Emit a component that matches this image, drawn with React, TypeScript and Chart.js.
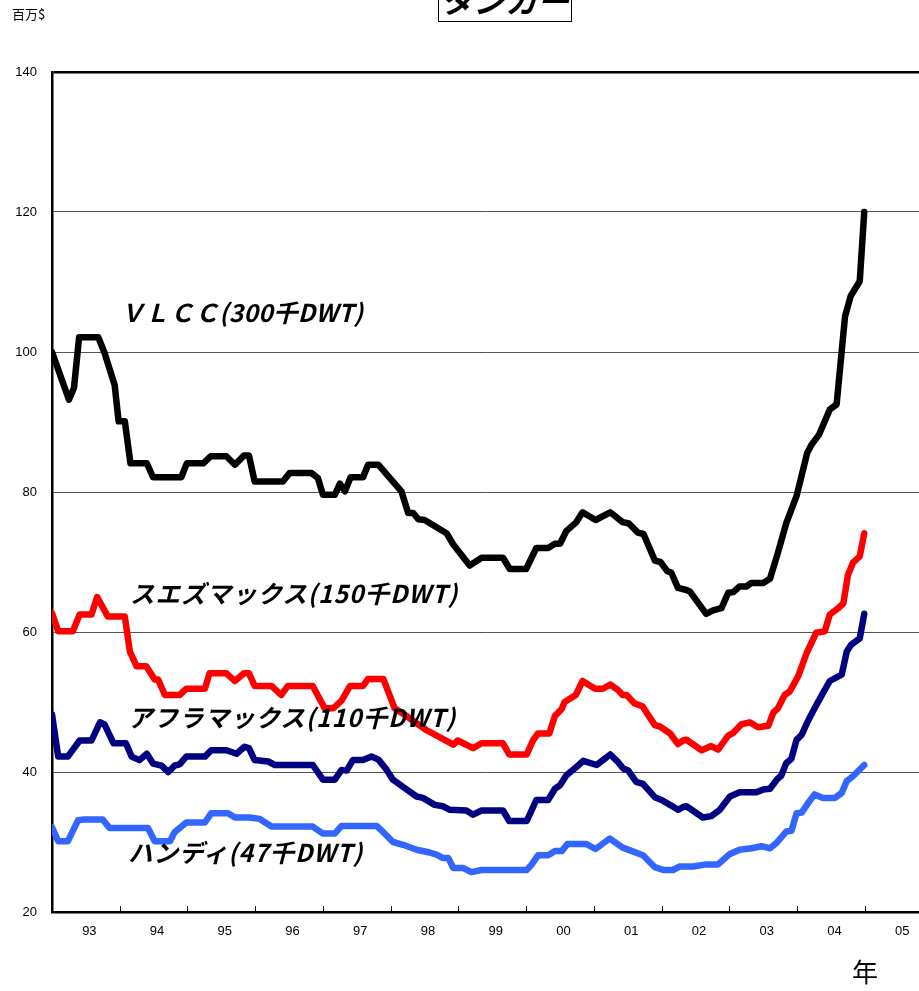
import React, { useEffect, useRef } from "react";
import { Chart, registerables } from "chart.js";

Chart.register(...registerables);

// x values are months counted from Jan 1993 (0 = 1993/01)
const yearLabels = ["93", "94", "95", "96", "97", "98", "99", "00", "01", "02", "03", "04", "05"];
const yTicks = [20, 40, 60, 80, 100, 120, 140];

const vlccMonth = [0, 3.0, 3.9, 4.8, 8.2, 9.3, 11.1, 11.8, 12.9, 13.9, 16.8, 17.9, 22.9, 23.9, 26.8, 28.1, 30.9, 32.4, 34.0, 34.9, 35.9, 40.9, 42.1, 46.0, 47.1, 48.0, 50.1, 51.0, 51.9, 52.9, 55.1, 56.0, 57.8, 61.9, 63.1, 64.0, 64.9, 66.0, 69.9, 71.1, 74.0, 76.1, 79.9, 81.1, 84.0, 85.8, 87.9, 89.1, 90.0, 91.1, 92.9, 94.0, 96.3, 98.9, 101.1, 102.2, 103.8, 104.8, 106.8, 107.8, 109.0, 109.7, 110.9, 112.4, 113.0, 115.9, 117.1, 118.6, 119.8, 120.7, 121.8, 123.0, 123.9, 126.0, 127.2, 128.6, 130.1, 131.9, 133.8, 134.6, 135.9, 137.8, 139.0, 140.5, 141.5, 143.1, 143.9];
const vlccValue = [100, 93.2, 94.9, 102.1, 102.1, 99.9, 95.3, 90.1, 90.1, 84.1, 84.1, 82.1, 82.1, 84.1, 84.1, 85.1, 85.1, 83.9, 85.2, 85.2, 81.5, 81.5, 82.7, 82.7, 82.0, 79.6, 79.6, 81.2, 80.1, 82.1, 82.1, 83.9, 83.9, 80.1, 77.0, 77.0, 76.1, 76.0, 74.1, 72.5, 69.5, 70.6, 70.6, 69.0, 69.0, 72.0, 72.0, 72.6, 72.6, 74.4, 75.7, 77.1, 76.0, 77.1, 75.7, 75.5, 74.2, 74.0, 70.2, 70.0, 68.7, 68.5, 66.3, 66.0, 65.8, 62.6, 63.1, 63.4, 65.6, 65.7, 66.5, 66.5, 67.0, 67.0, 67.6, 71.3, 75.6, 79.4, 85.6, 86.8, 88.2, 91.8, 92.5, 105.1, 108.0, 110.1, 120.0];

const suezMonth = [0, 1.1, 3.7, 4.9, 7.0, 8.0, 9.9, 12.9, 13.8, 15.0, 16.7, 18.2, 18.8, 20.0, 22.6, 23.8, 27.1, 27.9, 30.9, 32.4, 34.0, 34.9, 35.9, 38.9, 40.6, 41.8, 46.2, 48.3, 49.8, 51.3, 52.8, 55.1, 56.0, 58.7, 60.7, 62.8, 66.3, 71.1, 71.9, 74.6, 76.1, 79.9, 81.0, 84.1, 85.2, 86.1, 88.1, 89.1, 90.3, 90.8, 92.8, 94.0, 96.2, 97.6, 98.9, 100.3, 101.1, 101.8, 103.2, 104.6, 106.8, 107.7, 109.5, 110.9, 111.8, 112.4, 115.1, 116.8, 118.0, 119.8, 120.7, 122.1, 123.6, 125.1, 126.9, 127.8, 128.6, 129.8, 130.7, 132.2, 133.7, 135.4, 136.9, 137.8, 139.3, 140.2, 141.0, 141.9, 143.1, 143.9];
const suezValue = [62.7, 60.1, 60.1, 62.5, 62.5, 65.0, 62.2, 62.2, 57.2, 55.1, 55.1, 53.2, 53.2, 51.0, 51.0, 51.9, 51.9, 54.1, 54.1, 53.0, 54.1, 54.1, 52.3, 52.3, 51.0, 52.3, 52.3, 49.1, 49.1, 50.2, 52.3, 52.3, 53.3, 53.3, 49.1, 48.0, 46.0, 43.9, 44.5, 43.4, 44.1, 44.1, 42.5, 42.5, 44.5, 45.5, 45.5, 48.0, 49.0, 50.0, 51.0, 53.0, 51.9, 51.9, 52.5, 51.7, 51.0, 51.0, 49.8, 49.4, 46.7, 46.5, 45.5, 44.0, 44.5, 44.6, 43.1, 43.7, 43.2, 45.2, 45.6, 46.8, 47.1, 46.4, 46.6, 48.5, 49.1, 51.0, 51.5, 53.7, 57.0, 59.9, 60.1, 62.5, 63.4, 64.1, 68.1, 69.9, 70.8, 74.1];

const aframaxMonth = [0, 1.1, 2.8, 4.9, 7.0, 8.5, 9.3, 10.9, 13.1, 14.1, 15.5, 16.8, 17.9, 19.4, 20.6, 21.7, 22.6, 23.8, 27.1, 28.2, 30.9, 32.7, 34.1, 34.9, 35.9, 38.3, 39.5, 46.2, 48.0, 50.1, 51.3, 52.2, 53.3, 55.1, 56.6, 57.8, 59.3, 60.4, 62.5, 64.6, 65.7, 67.8, 69.3, 70.5, 73.4, 74.6, 76.1, 79.9, 81.0, 84.1, 85.8, 87.9, 89.1, 90.0, 91.1, 92.9, 94.1, 96.5, 97.6, 98.9, 100.3, 101.2, 102.1, 103.5, 104.7, 106.8, 108.0, 109.7, 110.9, 111.8, 112.4, 115.3, 116.8, 118.3, 120.1, 121.8, 124.8, 126.0, 127.2, 128.4, 129.2, 130.1, 131.0, 131.9, 132.8, 134.0, 135.1, 136.6, 137.8, 139.9, 140.8, 141.6, 143.1, 143.9];
const aframaxValue = [48.2, 42.2, 42.2, 44.5, 44.5, 47.1, 46.8, 44.1, 44.1, 42.2, 41.7, 42.6, 41.2, 40.9, 40.0, 40.9, 41.1, 42.2, 42.2, 43.1, 43.1, 42.6, 43.6, 43.4, 41.7, 41.5, 41.0, 41.0, 38.9, 38.9, 40.3, 40.2, 41.7, 41.7, 42.2, 41.8, 40.3, 38.9, 37.7, 36.5, 36.3, 35.3, 35.1, 34.6, 34.5, 33.9, 34.5, 34.5, 33.0, 33.0, 36.0, 36.0, 37.6, 38.1, 39.5, 40.7, 41.6, 41.0, 41.7, 42.5, 41.4, 40.5, 40.2, 38.6, 38.3, 36.4, 36.0, 35.2, 34.6, 35.0, 35.1, 33.5, 33.7, 34.6, 36.5, 37.1, 37.1, 37.5, 37.6, 38.9, 39.5, 41.3, 41.9, 44.6, 45.3, 47.4, 49.1, 51.3, 53.0, 53.9, 57.2, 58.2, 59.1, 62.6];

const handyMonth = [0, 1.1, 2.8, 4.6, 5.5, 9.0, 10.2, 17.0, 18.2, 20.9, 21.7, 23.8, 27.1, 28.2, 31.2, 32.4, 35.0, 36.8, 38.9, 46.2, 48.0, 50.1, 51.3, 57.5, 58.7, 60.4, 62.2, 64.6, 66.9, 68.1, 69.3, 70.2, 71.1, 72.8, 74.3, 76.1, 84.1, 84.9, 86.1, 87.9, 89.1, 90.3, 91.3, 94.7, 96.3, 98.8, 101.1, 102.4, 104.7, 106.8, 108.3, 110.0, 111.2, 113.6, 115.9, 118.0, 120.1, 121.8, 123.9, 125.7, 127.2, 128.4, 130.1, 131.0, 131.9, 132.8, 134.0, 135.1, 136.6, 138.7, 139.9, 140.8, 141.9, 143.9];
const handyValue = [32.1, 30.1, 30.1, 33.1, 33.2, 33.2, 32.0, 32.0, 30.1, 30.1, 31.4, 32.8, 32.8, 34.1, 34.1, 33.5, 33.5, 33.3, 32.2, 32.2, 31.2, 31.2, 32.3, 32.3, 31.4, 30.0, 29.6, 28.9, 28.5, 28.2, 27.7, 27.7, 26.3, 26.3, 25.7, 26.0, 26.0, 26.7, 28.1, 28.1, 28.7, 28.7, 29.7, 29.7, 29.0, 30.5, 29.2, 28.8, 28.1, 26.4, 26.0, 26.0, 26.5, 26.5, 26.8, 26.8, 28.3, 28.9, 29.1, 29.4, 29.1, 29.9, 31.5, 31.6, 34.1, 34.2, 35.6, 36.8, 36.3, 36.3, 37.0, 38.7, 39.4, 41.0];

const seriesNames = ["ＶＬＣＣ(300千DWT)", "スエズマックス(150千DWT)", "アフラマックス(110千DWT)", "ハンディ(47千DWT)"];
const seriesColors = ["#000000", "#FF0000", "#000080", "#3366FF"];

const toPoints = (xs: number[], ys: number[]) => xs.map((x, i) => ({ x, y: ys[i] }));

const tickMarks = {
  id: "tickMarks",
  afterDatasetsDraw(chart: any) {
    const { ctx, scales } = chart;
    const xs = scales.x;
    const bottom = chart.chartArea.bottom;
    ctx.save();
    ctx.strokeStyle = "#000";
    ctx.lineWidth = 1;
    for (let i = 1; i < yearLabels.length; i++) {
      const px = Math.round(xs.getPixelForValue(i * 12)) + 0.5;
      ctx.beginPath();
      ctx.moveTo(px, bottom);
      ctx.lineTo(px, bottom - 6);
      ctx.stroke();
    }
    ctx.restore();
  },
};

export default function App() {
  const ref = useRef<HTMLCanvasElement>(null);
  useEffect(() => {
    if (!ref.current) return;
    const series = [
      toPoints(vlccMonth, vlccValue),
      toPoints(suezMonth, suezValue),
      toPoints(aframaxMonth, aframaxValue),
      toPoints(handyMonth, handyValue),
    ];
    const chart = new Chart(ref.current, {
      type: "line",
      data: {
        datasets: series.map((d, i) => ({
          label: seriesNames[i],
          data: d,
          borderColor: seriesColors[i],
          backgroundColor: seriesColors[i],
          borderWidth: 6.5,
          pointRadius: 0,
          tension: 0,
          borderJoinStyle: "round" as const,
          borderCapStyle: "round" as const,
          fill: false,
        })),
      },
      options: {
        animation: false,
        responsive: false,
        maintainAspectRatio: false,
        layout: { padding: { top: 72, left: 0, right: 0, bottom: 0 } },
        plugins: { legend: { display: false }, tooltip: { enabled: false }, title: { display: false } },
        scales: {
          x: {
            type: "linear",
            min: 0,
            max: 153.6,
            afterFit: (s: any) => { s.height = 79; },
            afterBuildTicks: (s: any) => {
              s.ticks = yearLabels.map((_, i) => ({ value: 6 + 12 * i }));
            },
            ticks: {
              autoSkip: false,
              maxRotation: 0,
              padding: 12,
              labelOffset: 3.5,
              color: "#000",
              font: { family: "'Liberation Sans', Arial, sans-serif", size: 13 },
              callback: (v: any) => yearLabels[Math.round((Number(v) - 6) / 12)] ?? "",
            },
            grid: { display: false, drawTicks: false },
            border: { display: true, color: "#000", width: 2.5 },
          },
          y: {
            min: 20,
            max: 140,
            afterFit: (s: any) => { s.width = 52; },
            afterBuildTicks: (s: any) => {
              s.ticks = yTicks.map((v) => ({ value: v }));
            },
            ticks: {
              padding: 15,
              color: "#000",
              font: { family: "'Liberation Sans', Arial, sans-serif", size: 13 },
            },
            grid: {
              drawTicks: false,
              color: (c: any) => (c.tick && c.tick.value === 140 ? "#000" : "#555"),
              lineWidth: (c: any) => (c.tick && c.tick.value === 140 ? 2.5 : 1),
            },
            border: { display: true, color: "#000", width: 2.5 },
          },
        },
      },
      plugins: [tickMarks],
    });
    return () => chart.destroy();
  }, []);

  const labelStyle: React.CSSProperties = {
    position: "absolute",
    fontFamily: "'Noto Sans CJK JP', sans-serif",
    fontWeight: 700,
    fontStyle: "italic",
    fontSize: 24.5,
    letterSpacing: "1px",
    lineHeight: "28px",
    whiteSpace: "nowrap",
    color: "#000",
  };

  return (
    <div style={{ position: "absolute", left: 0, top: 0, width: 919, height: 991, overflow: "hidden", background: "#fff" }}>
      <canvas ref={ref} width={919} height={991} style={{ position: "absolute", left: 0, top: 0, width: 919, height: 991 }} />
      <div style={{ position: "absolute", left: 12, top: 6, fontFamily: "'Noto Sans CJK JP', sans-serif", fontSize: 13, lineHeight: "16px" }}>百万$</div>
      <div style={{ position: "absolute", left: 438, top: -30, width: 134, height: 52, border: "1px solid #000", boxSizing: "border-box", background: "#fff" }}>
        <div style={{ position: "absolute", left: 0, top: 0, width: "100%", textAlign: "center", fontFamily: "'Noto Sans CJK JP', sans-serif", fontWeight: 700, fontStyle: "italic", fontSize: 32, lineHeight: "56px", whiteSpace: "nowrap" }}>タンカー</div>
      </div>
      <div style={{ ...labelStyle, left: 120, top: 298, letterSpacing: "0.3px" }}>{seriesNames[0]}</div>
      <div style={{ ...labelStyle, left: 130, top: 579 }}>{seriesNames[1]}</div>
      <div style={{ ...labelStyle, left: 128, top: 703 }}>{seriesNames[2]}</div>
      <div style={{ ...labelStyle, left: 128, top: 838 }}>{seriesNames[3]}</div>
      <div style={{ position: "absolute", left: 852, top: 956, fontFamily: "'Noto Sans CJK JP', sans-serif", fontSize: 26, lineHeight: "30px" }}>年</div>
    </div>
  );
}
